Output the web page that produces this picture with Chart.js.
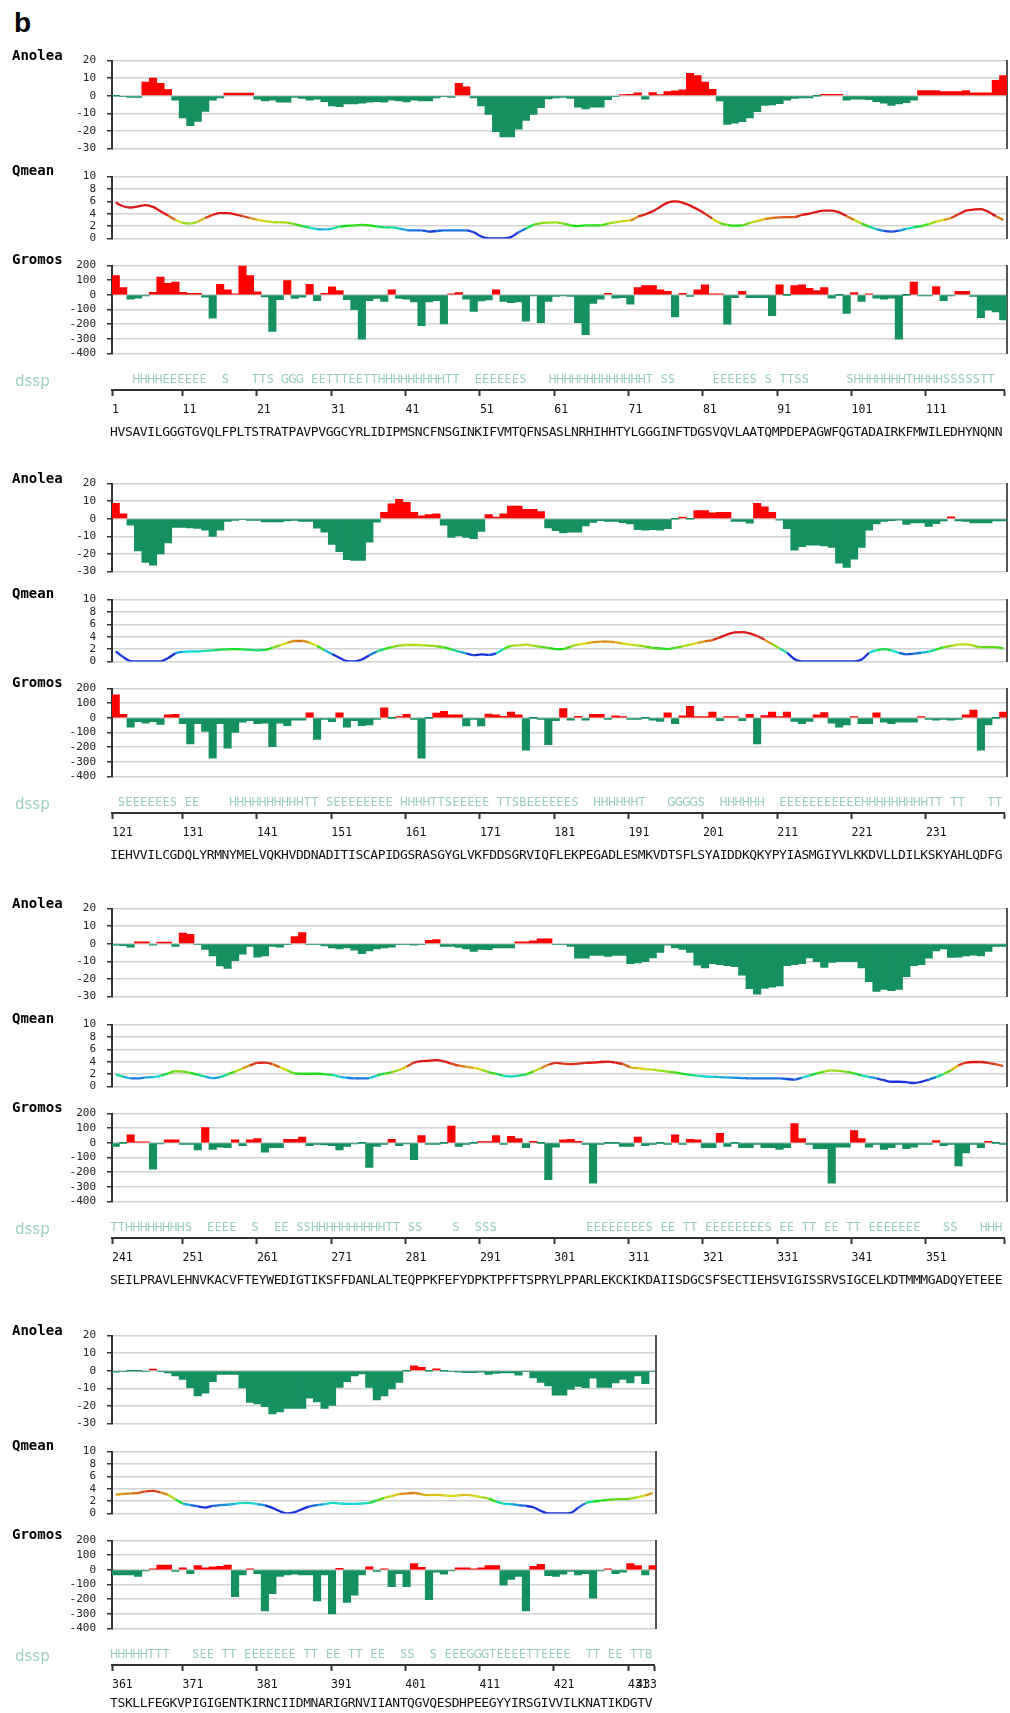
<!DOCTYPE html>
<html>
<head>
<meta charset="utf-8">
<script src="https://cdn.jsdelivr.net/npm/chart.js@4.4.1/dist/chart.umd.min.js"></script>
<style>
  body { margin: 0; background: #fff; }
  #page { position: relative; width: 1010px; height: 1713px; overflow: hidden; background: #fff; }
  #page canvas { position: absolute; left: 0; }
  .lbl { position: absolute; white-space: pre; }
  .fig { font: bold 28px "Liberation Sans", Arial, sans-serif; line-height: 28px; color: #000; }
  .title { font: bold 14px "DejaVu Sans Mono", monospace; line-height: 16px; color: #000; }
  .dssp { font: 15px "DejaVu Sans", sans-serif; line-height: 18px; color: #9ccfc2; }
</style>
</head>
<body>
<div id="page"></div>
<script>
// residue numbering of the four rows
const blockStart = [1, 121, 241, 361];
const tickLabels1 = [1, 11, 21, 31, 41, 51, 61, 71, 81, 91, 101, 111];
const tickLabels2 = [121, 131, 141, 151, 161, 171, 181, 191, 201, 211, 221, 231];
const tickLabels3 = [241, 251, 261, 271, 281, 291, 301, 311, 321, 331, 341, 351];
const tickLabels4 = [361, 371, 381, 391, 401, 411, 421, 431];
const lastResidue = 433;

const seq1 = "HVSAVILGGGTGVQLFPLTSTRATPAVPVGGCYRLIDIPMSNCFNSGINKIFVMTQFNSASLNRHIHHTYLGGGINFTDGSVQVLAATQMPDEPAGWFQGTADAIRKFMWILEDHYNQNN";
const seq2 = "IEHVVILCGDQLYRMNYMELVQKHVDDNADITISCAPIDGSRASGYGLVKFDDSGRVIQFLEKPEGADLESMKVDTSFLSYAIDDKQKYPYIASMGIYVLKKDVLLDILKSKYAHLQDFG";
const seq3 = "SEILPRAVLEHNVKACVFTEYWEDIGTIKSFFDANLALTEQPPKFEFYDPKTPFFTSPRYLPPARLEKCKIKDAIISDGCSFSECTIEHSVIGISSRVSIGCELKDTMMMGADQYETEEE";
const seq4 = "TSKLLFEGKVPIGIGENTKIRNCIIDMNARIGRNVIIANTQGVQESDHPEEGYYIRSGIVVILKNATIKDGTV";

// dssp runs: [first residue, letters]
const dssp1 = [[4, "HHHHEEEEEE"], [16, "S"], [20, "TTS"], [24, "GGG"], [28, "EETTTEETTHHHHHHHHHTT"], [50, "EEEEEES"],
  [60, "HHHHHHHHHHHHHT SS"], [82, "EEEEES S TTSS"], [100, "SHHHHHHHTHHHHSSSSSTT"]];
const dssp2 = [[122, "SEEEEEES"], [131, "EE"], [137, "HHHHHHHHHHTT"], [150, "SEEEEEEEE"], [160, "HHHHTTSEEEEE"],
  [173, "TTSBEEEEEES"], [186, "HHHHHHT"], [196, "GGGGS"], [203, "HHHHHH"], [211, "EEEEEEEEEEEHHHHHHHHHTT"],
  [234, "TT"], [239, "TT"]];
const dssp3 = [[241, "TTHHHHHHHHS"], [254, "EEEE"], [260, "S"], [263, "EE"], [266, "SSHHHHHHHHHHTT"], [281, "SS"],
  [287, "S"], [290, "SSS"], [305, "EEEEEEEES"], [315, "EE"], [318, "TT"], [321, "EEEEEEEES"], [331, "EE"],
  [334, "TT"], [337, "EE"], [340, "TT"], [343, "EEEEEEE"], [353, "SS"], [358, "HHH"]];
const dssp4 = [[361, "HHHHHTTT"], [372, "SEE"], [376, "TT"], [379, "EEEEEEE"], [387, "TT"], [390, "EE"], [393, "TT"],
  [396, "EE"], [400, "SS"], [404, "S"], [406, "EEEGGGTEEEETTEEEE"], [425, "TT"], [428, "EE"], [431, "TT"], [433, "B"]];

const anolea1 = [0, -0.3, -1, -1, 7.8, 10, 7, 3.5, -2.5, -12.7,
  -17, -14.6, -9, -2.6, -1.3, 1.5, 1.5, 1.5, 1.5, -2,
  -3, -2.6, -3.7, -3.7, -1, -1.6, -2.6, -2, -3.4, -5.8,
  -6.3, -4.7, -4.7, -4.2, -3.7, -3.4, -3.7, -2.6, -3, -3.6,
  -2.6, -3, -3, -1.3, -0.5, -1, 7, 5, -1.3, -5.8,
  -10.7, -20.5, -23.4, -23.4, -19, -14, -10.7, -6.8, -1.8, -1.3,
  -1, -1.5, -6.5, -7.5, -6.5, -6.5, -2.3, -0.3, 0.6, 0.8,
  1.6, -2, 1.8, 0.6, 2.3, 2.8, 3.4, 12.8, 11.5, 7.8,
  3.6, -3, -16.3, -15.6, -14.8, -12.7, -9.1, -5.5, -5.2, -4.5,
  -2.6, -1.6, -1.3, -1.3, 0, 0.8, 0.8, 0.8, -2.6, -2,
  -2, -2.3, -3.4, -4.2, -5.5, -4.7, -3.9, -2.6, 2.9, 2.9,
  2.9, 2.3, 2.3, 2.3, 2.9, 1.6, 1.6, 1.6, 8.8, 11.5];
const qmean1 = [5.8, 5.2, 5.0, 5.2, 5.4, 5.1, 4.4, 3.7, 3.0, 2.5,
  2.4, 2.7, 3.3, 3.8, 4.1, 4.1, 3.9, 3.6, 3.3, 3.0,
  2.8, 2.65, 2.6, 2.55, 2.3, 2.0, 1.75, 1.5, 1.45, 1.6,
  1.9, 2.05, 2.1, 2.2, 2.1, 1.95, 1.8, 1.8, 1.6, 1.35,
  1.3, 1.3, 1.1, 1.2, 1.3, 1.3, 1.3, 1.3, 1.0, 0.3,
  0, 0, 0, 0.2, 1.0, 1.6, 2.2, 2.45, 2.55, 2.6,
  2.4, 2.1, 2.0, 2.1, 2.1, 2.1, 2.4, 2.6, 2.8, 2.9,
  3.5, 3.9, 4.4, 5.1, 5.8, 6.0, 5.8, 5.3, 4.7, 4.0,
  3.2, 2.5, 2.2, 2.05, 2.1, 2.5, 2.8, 3.1, 3.3, 3.4,
  3.45, 3.45, 3.8, 4.0, 4.3, 4.5, 4.5, 4.2, 3.6, 3.0,
  2.4, 1.9, 1.5, 1.2, 1.1, 1.25, 1.55, 1.8, 2.0, 2.3,
  2.7, 3.0, 3.3, 3.9, 4.5, 4.65, 4.75, 4.3, 3.6, 3.0];
const gromos1 = [131, 49, -29, -23, -4, 18, 121, 78, 88, 18,
  10, 10, -16, -160, 72, 35, 6, 198, 131, 20,
  -14, -250, -33, 98, -25, -16, 72, -39, 10, 55,
  29, -33, -102, -303, -39, -25, -45, 35, -25, -29,
  -49, -211, -49, -39, -199, 4, 16, -29, -113, -41,
  -35, 35, -45, -53, -49, -180, -6, -190, -45, -10,
  -6, -10, -190, -272, -59, -29, 10, -23, -20, -64,
  49, 63, 63, 35, 25, -150, 10, -10, 35, 68,
  2, 2, -201, -20, 25, -20, -20, -20, -143, 68,
  0, 63, 68, 45, 29, 49, -23, 0, -127, 16,
  -45, 2, -23, -29, -23, -303, 0, 88, -6, -6,
  57, -39, -6, 25, 25, -10, -156, -104, -117, -172];

const anolea2 = [8.8, 2.8, -3.7, -18.4, -24.9, -26.4, -20, -13.8, -4.9, -4.9,
  -5.2, -5.5, -6.5, -10.1, -6.5, -1.6, -1.0, -0.5, -1.0, -1.0,
  -1.8, -1.8, -1.8, -1.3, -1.0, -1.5, -1.5, -5.4, -7.7, -14.7,
  -18.7, -23.3, -23.8, -23.8, -13.4, -2.0, 3.6, 8.5, 11, 9.4,
  3.6, 1.6, 2.4, 2.8, -3.7, -10.7, -9.8, -10.7, -11.4, -7.3,
  2.3, 1.0, 2.8, 7.2, 7.2, 5.4, 5.4, 4.1, -5.2, -6.8,
  -8.1, -7.7, -7.7, -4.1, -2.1, -1.1, -1.6, -1.6, -2.3, -2.9,
  -6.2, -6.5, -6.2, -6.5, -5.7, 0, 1, 0, 4.6, 4.6,
  3.3, 3.6, 3.6, -1.6, -1.6, -2.6, 8.8, 6.8, 3.6, -0.8,
  -5.7, -17.9, -15.9, -15, -15, -15.5, -16.3, -25.3, -27.7, -23.1,
  -16.3, -6.5, -2.9, -1.6, -1.1, -0.8, -3.2, -2.4, -2.4, -4.4,
  -2.8, -1.3, 1.1, -1.3, -1.6, -2.4, -2.4, -2.4, -1.3, -1.3];
const qmean2 = [1.6, 0.7, 0.05, 0, 0, 0, 0, 0.5, 1.3, 1.55,
  1.6, 1.6, 1.7, 1.8, 1.9, 1.95, 2.0, 1.95, 1.85, 1.8,
  1.85, 2.2, 2.6, 3.0, 3.3, 3.3, 3.0, 2.5, 1.8, 1.2,
  0.6, 0.05, 0, 0.3, 1.0, 1.6, 2.0, 2.3, 2.55, 2.65,
  2.65, 2.6, 2.55, 2.45, 2.25, 1.95, 1.6, 1.3, 1.0, 1.15,
  1.05, 1.3, 2.0, 2.5, 2.6, 2.7, 2.55, 2.35, 2.2, 2.0,
  2.0, 2.4, 2.7, 2.9, 3.1, 3.2, 3.2, 3.1, 2.9, 2.7,
  2.6, 2.4, 2.2, 2.1, 2.0, 2.2, 2.45, 2.7, 3.0, 3.25,
  3.45, 3.9, 4.35, 4.7, 4.75, 4.55, 4.1, 3.5, 2.8, 2.1,
  1.4, 0.4, 0, 0, 0, 0, 0, 0, 0, 0,
  0.3, 1.35, 1.8, 2.0, 1.8, 1.4, 1.15, 1.25, 1.4, 1.6,
  1.9, 2.3, 2.5, 2.7, 2.75, 2.55, 2.3, 2.3, 2.3, 2.1];
const gromos2 = [158, 24, -63, -26, -36, -26, -45, 20, 24, -39,
  -178, -39, -93, -276, -39, -207, -99, -30, -20, -39,
  -36, -197, -36, -53, -16, -16, 34, -148, -10, -26,
  34, -63, -20, -53, -49, -10, 69, 0, 8, 24,
  -10, -276, 0, 32, 45, 20, 20, -55, -10, -55,
  26, 20, 10, 40, 20, -221, 0, -10, -183, -20,
  63, -16, 10, -16, 24, 24, -10, 14, 8, -10,
  -10, 0, -16, -24, 34, -39, 14, 79, 8, 8,
  40, -20, 8, 8, -20, 24, -178, 16, 40, 8,
  40, -24, -39, -24, 20, 36, -36, -63, -49, 8,
  -39, -39, 34, -30, -39, -30, -30, -30, 8, -10,
  -16, -10, -16, -10, 20, 53, -221, -49, 0, 40];

const anolea3 = [-0.8, -1.1, -1.9, 1.1, 1.1, -0.8, 1.0, 1.0, -1.6, 6.0,
  5.4, -0.5, -3.2, -7.0, -12.7, -14.1, -9.7, -6.0, -1.6, -7.6,
  -7.0, -1.6, -1.9, -0.5, 4.1, 6.3, -0.6, -0.6, -1.3, -2.4,
  -2.9, -2.4, -3.7, -5.7, -4.1, -2.9, -2.4, -1.9, -0.3, -0.3,
  -0.8, -0.3, 1.9, 2.4, -1.6, -1.6, -2.1, -2.9, -4.4, -3.2,
  -3.4, -2.4, -2.4, -2.4, 1.1, 1.1, 1.6, 2.8, 2.8, -0.3,
  -0.5, -1.6, -8.3, -8.3, -6.7, -6.7, -7.3, -6.7, -6.7, -11.4,
  -10.9, -10.2, -8.1, -4.9, -0.8, -2.4, -3.2, -4.9, -12.2, -13.8,
  -11.4, -11.9, -12.5, -13, -17.9, -25.6, -28.7, -25.5, -24.7, -24,
  -12.5, -11.9, -11.4, -8.1, -10.2, -13.5, -10.6, -10.2, -10.2, -10.2,
  -13.8, -21.6, -27.1, -26, -26.8, -26, -18.7, -12.5, -11.9, -8.3,
  -4.1, -2.9, -7.8, -7.6, -7.0, -6.5, -7.0, -4.4, -1.6, -1.6];
const qmean3 = [1.9, 1.6, 1.3, 1.3, 1.45, 1.5, 1.7, 2.1, 2.45, 2.4,
  2.2, 1.9, 1.6, 1.35, 1.5, 1.95, 2.4, 2.9, 3.4, 3.8,
  3.85, 3.6, 3.1, 2.6, 2.1, 2.05, 2.05, 2.05, 2.0, 1.85,
  1.6, 1.4, 1.3, 1.3, 1.35, 1.75, 2.05, 2.3, 2.65, 3.2,
  3.85, 4.1, 4.15, 4.25, 4.05, 3.7, 3.35, 3.2, 3.0, 2.7,
  2.3, 2.05, 1.7, 1.6, 1.75, 1.95, 2.4, 2.95, 3.5, 3.8,
  3.7, 3.6, 3.7, 3.8, 3.85, 3.95, 4.0, 3.85, 3.6, 3.1,
  2.95, 2.8, 2.7, 2.55, 2.4, 2.25, 2.05, 1.85, 1.7, 1.6,
  1.55, 1.5, 1.45, 1.4, 1.35, 1.3, 1.3, 1.3, 1.3, 1.3,
  1.2, 1.1, 1.4, 1.75, 2.1, 2.4, 2.6, 2.5, 2.35, 2.1,
  1.8, 1.55, 1.3, 1.0, 0.75, 0.75, 0.7, 0.55, 0.75, 1.1,
  1.5, 2.0, 2.6, 3.4, 3.85, 3.95, 3.95, 3.8, 3.55, 3.3];
const gromos3 = [-24, 0, 55, 2, 2, -180, -6, 20, 20, -10,
  -10, -49, 104, -45, -29, -33, 20, -20, 20, 29,
  -63, -33, -33, 24, 24, 39, -20, -10, -14, -20,
  -49, -24, -6, 0, -167, -24, -10, 25, -20, -6,
  -114, 49, -10, -10, 0, 114, -25, -10, 0, 8,
  8, 49, -10, 45, 29, -33, 10, 0, -251, -29,
  20, 24, 10, -10, -275, -10, 0, 0, -24, -24,
  39, -20, -10, 0, -10, 55, -10, 24, 20, -33,
  -33, 65, -25, 0, -33, -33, -10, -33, -33, -45,
  -33, 131, 29, -10, -39, -39, -275, -29, -29, 84,
  29, -29, -10, -45, -33, -10, -39, -29, -10, -10,
  16, -20, -10, -157, -69, -10, -33, 10, 0, -10];

const anolea4 = [-0.8, -0.5, 0, 0, -0.5, 1.0, -0.5, -1.3, -3.0, -4.9,
  -9.7, -14.4, -12.8, -6.2, -2.1, -2.1, -2.1, -9.8, -18, -18.9,
  -20.5, -24.6, -23.4, -21.5, -21.5, -21.5, -15.6, -17.7, -21.5, -19.7,
  -9.5, -6.2, -3.0, -1.8, -9.5, -16.6, -14.4, -10.3, -6.7, 0,
  2.8, 2.0, 0, 1.1, 0, -0.5, -0.8, -1.1, -1.1, -0.8,
  -2.1, -1.6, -1.3, -1.3, -2.6, -0.5, -4.1, -6.7, -8.7, -13.9,
  -13.9, -10.7, -9.0, -9.7, -4.3, -9.5, -9.5, -7.0, -4.9, -7.0,
  -3.0, -7.4, -0.2];
const qmean4 = [3.05, 3.15, 3.25, 3.3, 3.55, 3.65, 3.4, 3.0, 2.3, 1.6,
  1.35, 1.15, 0.95, 1.2, 1.35, 1.4, 1.55, 1.7, 1.65, 1.5,
  1.3, 0.9, 0.35, 0, 0.2, 0.7, 1.15, 1.35, 1.5, 1.7,
  1.6, 1.55, 1.55, 1.6, 1.7, 2.1, 2.5, 2.8, 3.1, 3.25,
  3.3, 3.1, 2.95, 3.0, 2.9, 2.8, 2.9, 3.0, 2.85, 2.65,
  2.4, 1.9, 1.6, 1.5, 1.35, 1.2, 1.0, 0.4, 0, 0,
  0, 0.1, 0.9, 1.65, 1.9, 2.05, 2.2, 2.3, 2.3, 2.4,
  2.65, 2.9, 3.3];
const gromos4 = [-35, -35, -35, -45, -6, 4, 33, 33, -10, 14,
  -26, 30, 14, 20, 24, 33, -183, -35, 4, -26,
  -281, -163, -45, -35, -30, -35, -35, -213, -35, -301,
  10, -222, -173, -35, 20, -10, 4, -114, -26, -114,
  43, 18, -203, -16, -30, -6, 14, 14, 4, 14,
  30, 30, -104, -65, -45, -281, 24, 37, -39, -45,
  -30, -10, -35, -26, -193, -6, 4, -26, -16, 43,
  30, -35, 30];

// ---- layout ----
const RED = '#ff0000', GREEN = '#14915f', GRID = '#d2d2d2', AXIS = '#333';
const AX_LEFT = 112, PX = 895 / 120, PAD = 10;
const blockTop = [53, 476, 901, 1328];
const page = document.getElementById('page');

function addCanvas(top, w, h) {
  const c = document.createElement('canvas');
  c.width = w; c.height = h;
  c.style.top = top + 'px';
  c.style.width = w + 'px';
  c.style.height = h + 'px';
  page.appendChild(c);
  return c;
}

function addLabel(text, cls, left, top) {
  const d = document.createElement('div');
  d.className = 'lbl ' + cls;
  d.textContent = text;
  d.style.left = left + 'px';
  d.style.top = top + 'px';
  page.appendChild(d);
}

function qColor(v) {
  const stops = [[1.1, 232], [1.5, 192], [2.0, 122], [2.5, 82], [3.0, 48], [3.5, 14], [3.9, 0]];
  let h = 0;
  if (v <= stops[0][0]) h = stops[0][1];
  else if (v < stops[stops.length - 1][0]) {
    for (let i = 1; i < stops.length; i++) {
      if (v <= stops[i][0]) {
        const [a, ha] = stops[i - 1], [b, hb] = stops[i];
        h = ha + (hb - ha) * (v - a) / (b - a);
        break;
      }
    }
  }
  return `hsl(${h.toFixed(0)}, 80%, 48%)`;
}

function yAxis(min, max, step) {
  return {
    min, max,
    ticks: { stepSize: step, autoSkip: false, padding: 11, color: '#222', font: { family: 'DejaVu Sans Mono', size: 11 } },
    grid: { color: GRID, lineWidth: 1.5, tickLength: 5, tickColor: AXIS, tickWidth: 1.5 },
    border: { color: AXIS, width: 2 },
    afterFit: s => { s.width = AX_LEFT; }
  };
}

function rightEdge(min, max) {
  return {
    position: 'right', min, max,
    ticks: { display: false },
    grid: { drawOnChartArea: false, drawTicks: false },
    border: { color: '#555', width: 2 },
    afterFit: s => { s.width = 0; }
  };
}

function panel(top, h, kind, values, min, max, step) {
  const n = values.length, right = AX_LEFT + n * PX, w = Math.ceil(right) + 4;
  const cv = addCanvas(top - PAD, w, h + 2 * PAD);
  const pts = values.map((v, i) => ({ x: i + 0.5, y: v }));
  const ds = kind === 'line' ? {
    data: pts, borderWidth: 2.3, pointRadius: 0, fill: false,
    cubicInterpolationMode: 'monotone', borderColor: '#e02020',
    segment: { borderColor: c => qColor((c.p0.parsed.y + c.p1.parsed.y) / 2) }
  } : {
    data: pts, backgroundColor: c => (c.raw && c.raw.y > 0 ? RED : GREEN),
    barPercentage: 1, categoryPercentage: 1, borderWidth: 0, minBarLength: 1
  };
  new Chart(cv, {
    type: kind,
    data: { datasets: [ds] },
    options: {
      responsive: false, animation: false, devicePixelRatio: 1,
      layout: { padding: { top: PAD, bottom: PAD, left: 0, right: w - right } },
      plugins: { legend: { display: false }, tooltip: { enabled: false } },
      scales: {
        x: { type: 'linear', min: 0, max: n, offset: false, display: false },
        y: yAxis(min, max, step),
        yr: rightEdge(min, max)
      }
    }
  });
}

// dssp letters and the sequence are drawn along the ruler's x scale
const seqPlugin = {
  id: 'seq',
  afterDraw(chart, args, o) {
    const { ctx } = chart, x = chart.scales.x;
    ctx.save();
    ctx.textAlign = 'center';
    ctx.textBaseline = 'middle';
    ctx.fillStyle = '#94cbbd';
    ctx.font = "12px 'DejaVu Sans Condensed', 'DejaVu Sans', sans-serif";
    [...o.dssp].forEach((c, k) => { if (c !== ' ') ctx.fillText(c, x.getPixelForValue(k + 0.27), o.dsspY); });
    ctx.fillStyle = '#111';
    ctx.font = "13px 'DejaVu Sans Mono', monospace";
    [...o.seq].forEach((c, k) => ctx.fillText(c, x.getPixelForValue(k + 0.27), o.seqY));
    if (o.endLabel) {
      ctx.font = "11.5px 'DejaVu Sans Mono', monospace";
      ctx.textAlign = 'right';
      ctx.fillText(o.endLabel, x.getPixelForValue(x.max) + 3, o.numY);
    }
    ctx.restore();
  }
};

function ruler(top, start, n, labels, dssp, seq, endLabel, seqShift) {
  const right = AX_LEFT + n * PX, w = Math.ceil(right) + 4;
  const T = top + 312;
  const cv = addCanvas(T, w, 96);
  const pos = labels.map(l => Math.max(0, l - start - 0.5)).concat([n]);
  const txt = labels.map(String).concat(['']);
  new Chart(cv, {
    type: 'line',
    data: { datasets: [] },
    options: {
      responsive: false, animation: false, devicePixelRatio: 1,
      layout: { padding: { top: 4, bottom: 31, left: AX_LEFT, right: w - right } },
      plugins: {
        legend: { display: false }, tooltip: { enabled: false },
        seq: { dssp, seq, endLabel, dsspY: 15, seqY: 68 + seqShift, numY: 45 }
      },
      scales: {
        x: {
          type: 'linear', min: 0, max: n,
          afterBuildTicks: s => { s.ticks = pos.map(v => ({ value: v })); },
          ticks: {
            autoSkip: false, maxRotation: 0, align: 'start', padding: 7, color: '#111',
            font: { family: 'DejaVu Sans Mono', size: 11.5 },
            callback: (v, i) => txt[i]
          },
          grid: { drawOnChartArea: false, tickLength: 6, tickColor: AXIS, tickWidth: 2 },
          border: { color: AXIS, width: 2 },
          afterFit: s => { s.height = 40; }
        },
        y: { display: false, min: 0, max: 1 }
      }
    },
    plugins: [seqPlugin]
  });
}

function dsspString(runs, start, n) {
  const a = new Array(n).fill(' ');
  runs.forEach(([r, s]) => [...s].forEach((c, i) => { const k = r - start + i; if (k >= 0 && k < n) a[k] = c; }));
  return a.join('');
}

const rows = [
  { anolea: anolea1, qmean: qmean1, gromos: gromos1, seq: seq1, dssp: dssp1, ticks: tickLabels1 },
  { anolea: anolea2, qmean: qmean2, gromos: gromos2, seq: seq2, dssp: dssp2, ticks: tickLabels2 },
  { anolea: anolea3, qmean: qmean3, gromos: gromos3, seq: seq3, dssp: dssp3, ticks: tickLabels3 },
  { anolea: anolea4, qmean: qmean4, gromos: gromos4, seq: seq4, dssp: dssp4, ticks: tickLabels4 }
];

addLabel('b', 'fig', 14, 9);

rows.forEach((r, b) => {
  const top = blockTop[b], start = blockStart[b], n = r.anolea.length;
  panel(top, 103, 'bar', r.anolea, -30, 20, 10);
  panel(top + 116, 77, 'line', r.qmean, 0, 10, 2);
  panel(top + 205, 103, 'bar', r.gromos, -400, 200, 100);
  const isLast = b === rows.length - 1;
  ruler(top, start, n, r.ticks, dsspString(r.dssp, start, n), r.seq,
    isLast ? String(lastResidue) : '', isLast ? -4 : 0);
  addLabel('Anolea', 'title', 12, top + 2 - 8);
  addLabel('Qmean', 'title', 12, top + 117 - 8);
  addLabel('Gromos', 'title', 12, top + 206 - 8);
  addLabel('dssp', 'dssp', 15, top + 319);
});
</script>
</body>
</html>
